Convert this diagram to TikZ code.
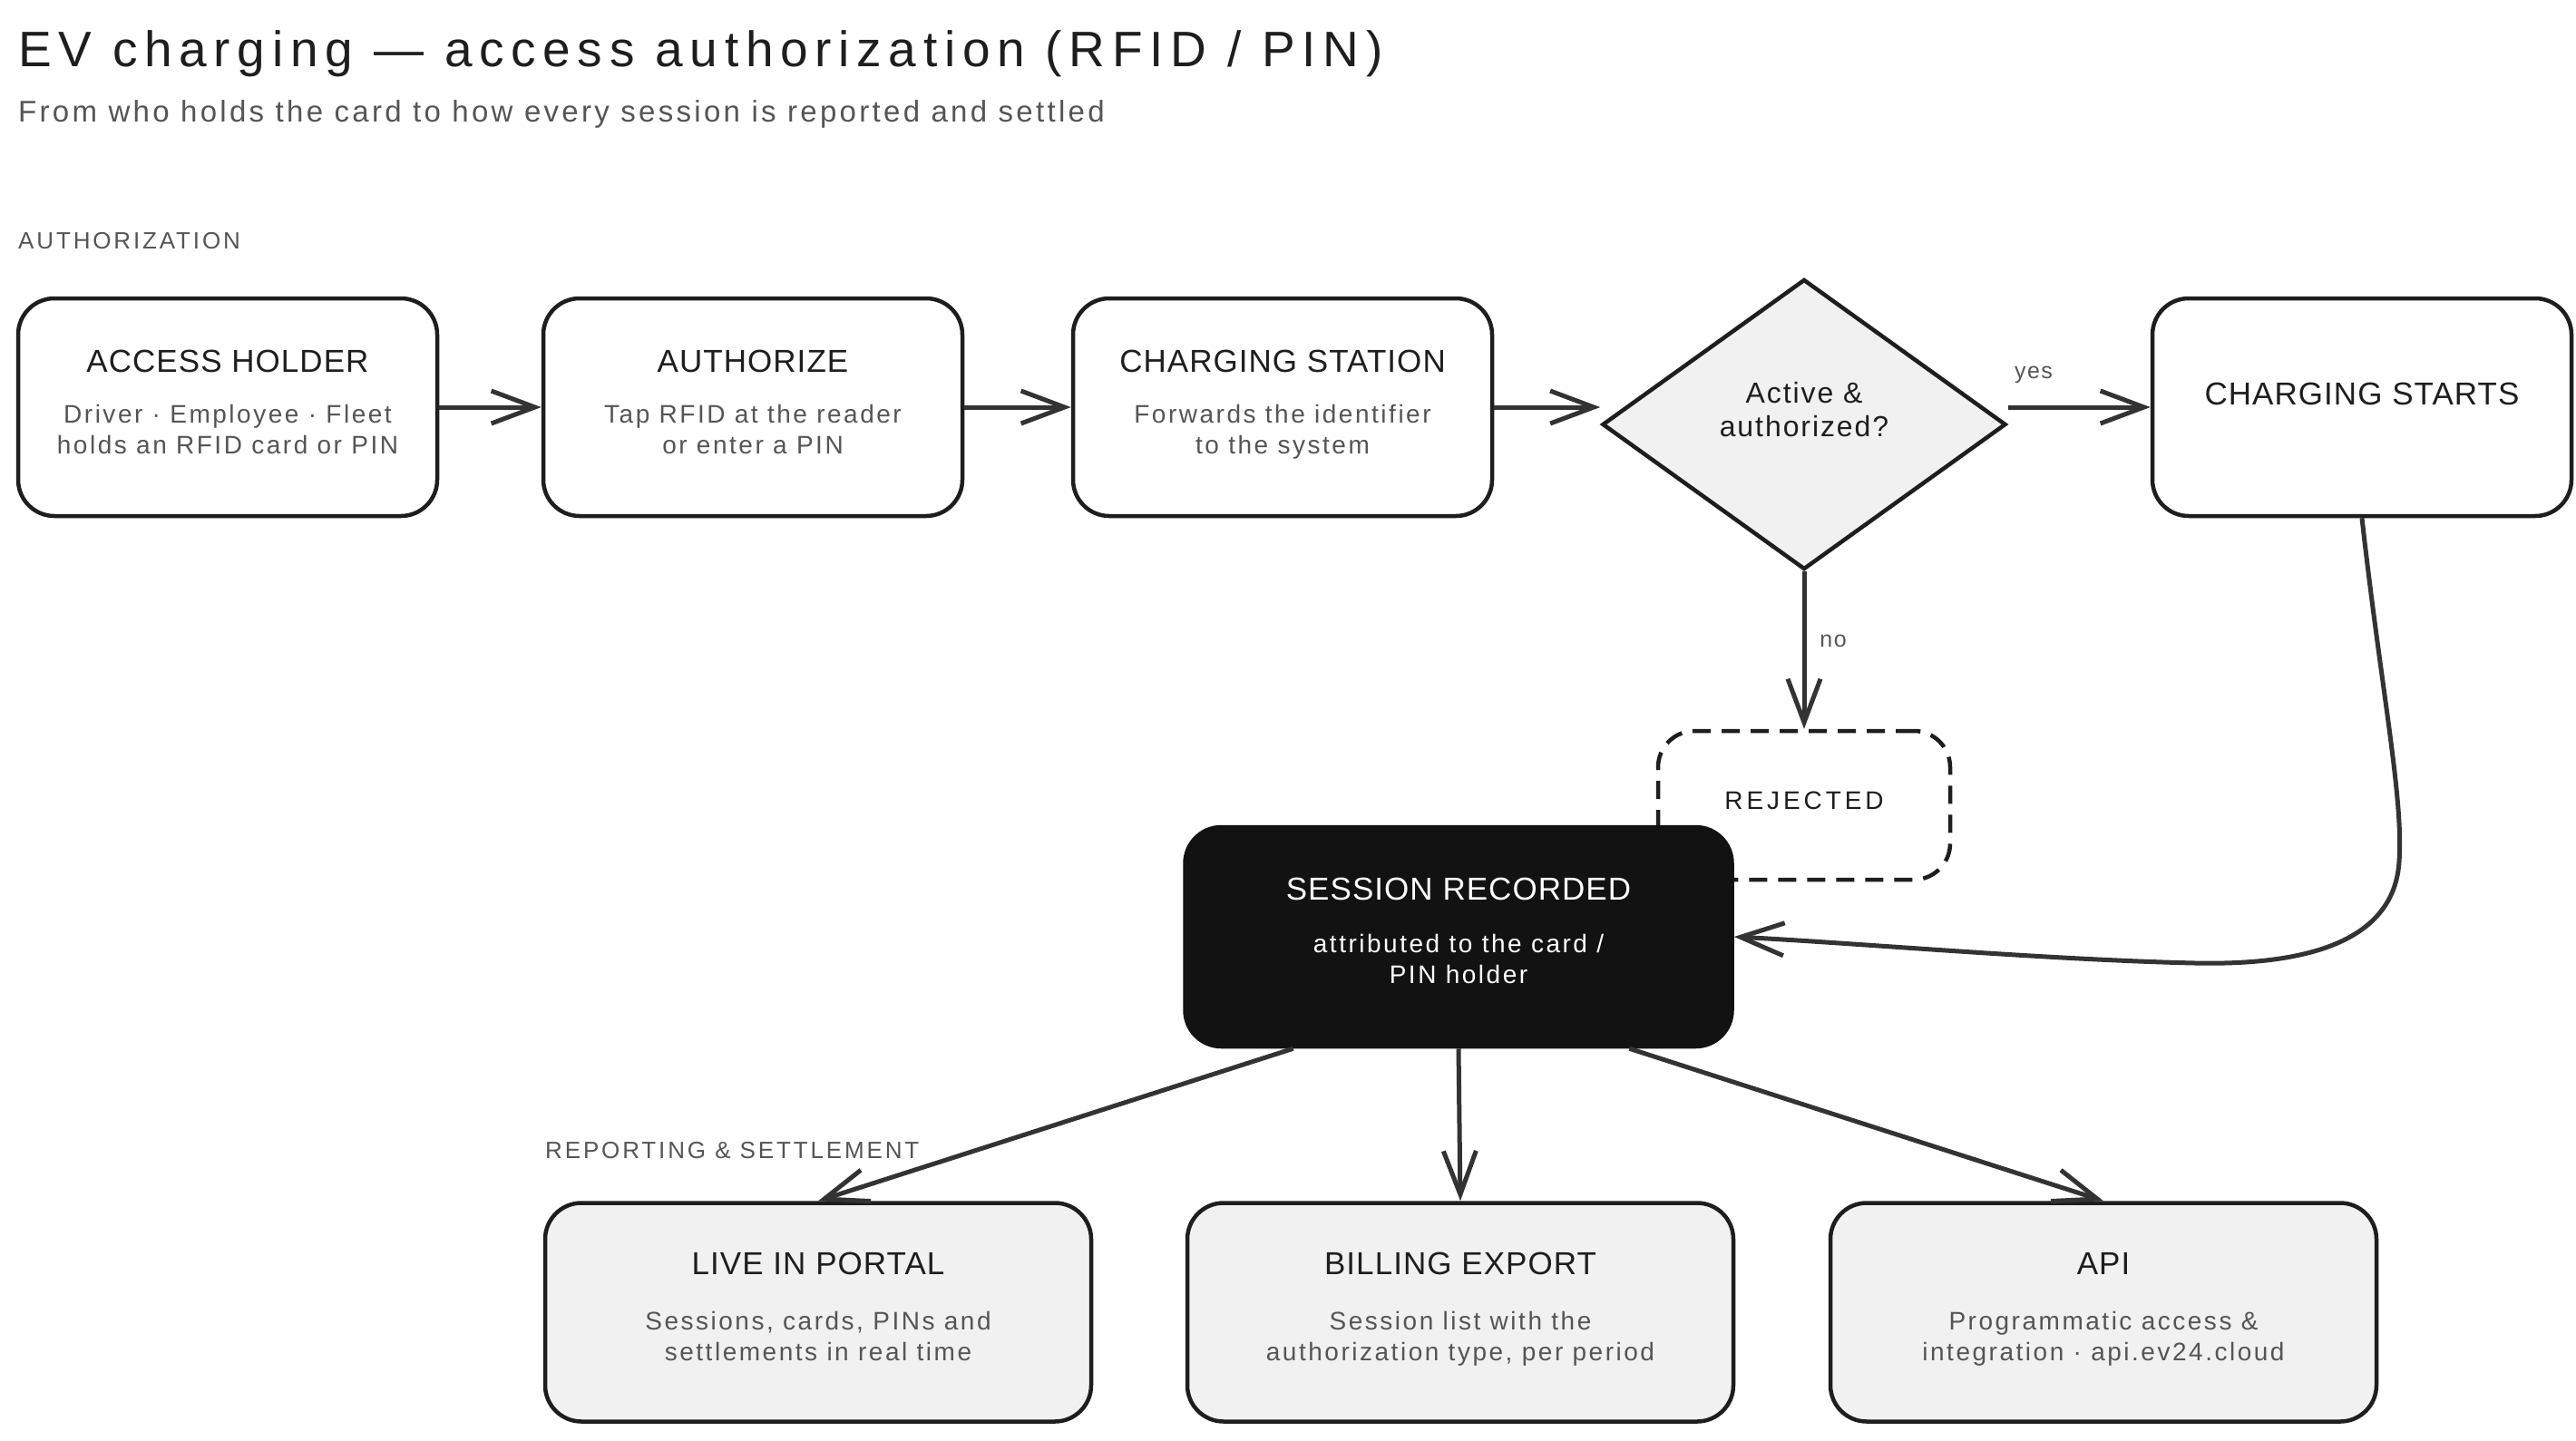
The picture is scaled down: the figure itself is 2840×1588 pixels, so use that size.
\documentclass[tikz,border=0pt]{standalone}
\usepackage{fontspec}
\setmainfont{Liberation Sans}
\usetikzlibrary{shapes.geometric,arrows.meta,calc}
\definecolor{ink}{HTML}{1E1E1E}
\definecolor{muted}{HTML}{555555}
\definecolor{pale}{HTML}{F1F1F1}
\definecolor{dark}{HTML}{121212}
\definecolor{wire}{HTML}{333333}
\newcommand\fsz[3]{\fontsize{#1}{#2}\selectfont\addfontfeatures{LetterSpace=#3}}
\tikzset{
  card/.style={draw=ink, line width=4.5pt, rounded corners=40pt, fill=white,
    minimum width=462pt, minimum height=240pt, inner sep=0pt},
  palecard/.style={card, fill=pale, minimum width=602pt, minimum height=241pt},
  darkcard/.style={card, fill=dark, draw=dark, minimum width=603pt, minimum height=242pt},
  dashcard/.style={card, dash pattern=on 20pt off 12pt, fill=none,
    minimum width=322pt, minimum height=164pt},
  decide/.style={diamond, draw=ink, line width=4.5pt, fill=pale, inner sep=0pt,
    minimum width=445pt, minimum height=320pt},
  cardtitle/.style={font=\fsz{35}{42}{3}, text=ink, anchor=base, inner sep=0pt},
  cardsub/.style={font=\fsz{28}{34}{9}, text=muted, anchor=base, inner sep=0pt, align=center},
  headline/.style={font=\fsz{55}{62}{14}, text=ink, anchor=base west, inner sep=0pt},
  subline/.style={font=\fsz{33}{40}{10}, text=muted, anchor=base west, inner sep=0pt},
  section/.style={font=\fsz{26}{32}{11}, text=muted, anchor=base west, inner sep=0pt},
  edgelabel/.style={font=\fsz{25}{30}{6}, text=muted, inner sep=0pt},
  arr/.style={draw=wire, line width=5pt,
    -{Straight Barb[length=48pt,width=36pt,line width=5pt]}},
}
\begin{document}
\begin{tikzpicture}[x=1pt,y=-1pt]
\fill[white] (0,0) rectangle (2840,1588);
\useasboundingbox (0,0) rectangle (2840,1588);

% headings
\node[headline] (title) at (20,73) {EV charging — access authorization (RFID / PIN)};
\node[subline] (subtitle) at (20,134) {From who holds the card to how every session is reported and settled};
\node[section] (secauth) at (20,274) {AUTHORIZATION};
\node[section] (secrep) at (601,1277) {REPORTING \& SETTLEMENT};

% row 1
\node[card] (holder) at (251,449) {};
\node[cardtitle] (holdert) at ($(holder)+(0,-39)$) {ACCESS HOLDER};
\node[cardsub] (holders) at ($(holder)+(0,51)$) {Driver · Employee · Fleet\\holds an RFID card or PIN};

\node[card] (auth) at (830,449) {};
\node[cardtitle] (autht) at ($(auth)+(0,-39)$) {AUTHORIZE};
\node[cardsub] (auths) at ($(auth)+(0,51)$) {Tap RFID at the reader\\or enter a PIN};

\node[card] (stat) at (1414,449) {};
\node[cardtitle] (statt) at ($(stat)+(0,-39)$) {CHARGING STATION};
\node[cardsub] (stats) at ($(stat)+(0,51)$) {Forwards the identifier\\to the system};

\node[decide] (dia) at (1989,468) {};
\node[font=\fsz{32}{37}{6}, text=ink, anchor=base, inner sep=0pt, align=center] (diat)
  at ($(dia)+(0,13)$) {Active \&\\authorized?};

\node[card] (start) at (2604,449) {};
\node[cardtitle] (startt) at ($(start)+(0,-3)$) {CHARGING STARTS};

% rejected + session
\node[dashcard] (rej) at (1989,888) {};
\node[font=\fsz{28}{34}{14}, text=ink, inner sep=0pt] (rejt) at ($(rej)+(0,-5)$) {REJECTED};

\node[darkcard] (ses) at (1608,1033) {};
\node[cardtitle, text=white] (sest) at ($(ses)+(0,-41)$) {SESSION RECORDED};
\node[cardsub, text=white] (sess) at ($(ses)+(0,51)$) {attributed to the card /\\PIN holder};

% bottom row
\node[palecard] (live) at (902,1447) {};
\node[cardtitle] (livet) at ($(live)+(0,-42)$) {LIVE IN PORTAL};
\node[cardsub] (lives) at ($(live)+(0,53)$) {Sessions, cards, PINs and\\settlements in real time};

\node[palecard] (bill) at (1610,1447) {};
\node[cardtitle] (billt) at ($(bill)+(0,-42)$) {BILLING EXPORT};
\node[cardsub] (bills) at ($(bill)+(0,53)$) {Session list with the\\authorization type, per period};

\node[palecard] (api) at (2319,1447) {};
\node[cardtitle] (apit) at ($(api)+(0,-42)$) {API};
\node[cardsub] (apis) at ($(api)+(0,53)$) {Programmatic access \&\\integration · api.ev24.cloud};

% connectors
\draw[arr] (holder.east) -- (auth.west);
\draw[arr] (auth.east) -- (stat.west);
\draw[arr] (stat.east) -- (stat.east -| dia.west);
\draw[arr] (start.west -| dia.east) -- node[edgelabel, pos=0.18, yshift=36pt] (yeslbl) {yes} (start.west);
\draw[arr] (dia.south) -- node[edgelabel, pos=0.44, xshift=32pt] (nolbl) {no} (rej.north);
\draw[arr] (start.south) .. controls (2625,760) and (2650,880) .. (2645,950)
  .. controls (2640,1030) and (2560,1065) .. (2420,1062)
  .. controls (2250,1058) and (2050,1040) .. (ses.east);
\draw[arr] ($(ses.south west)!0.2!(ses.south east)$) -- (live.north);
\draw[arr] (ses.south) -- (bill.north);
\draw[arr] ($(ses.south west)!0.81!(ses.south east)$) -- (api.north);
\end{tikzpicture}
\end{document}
